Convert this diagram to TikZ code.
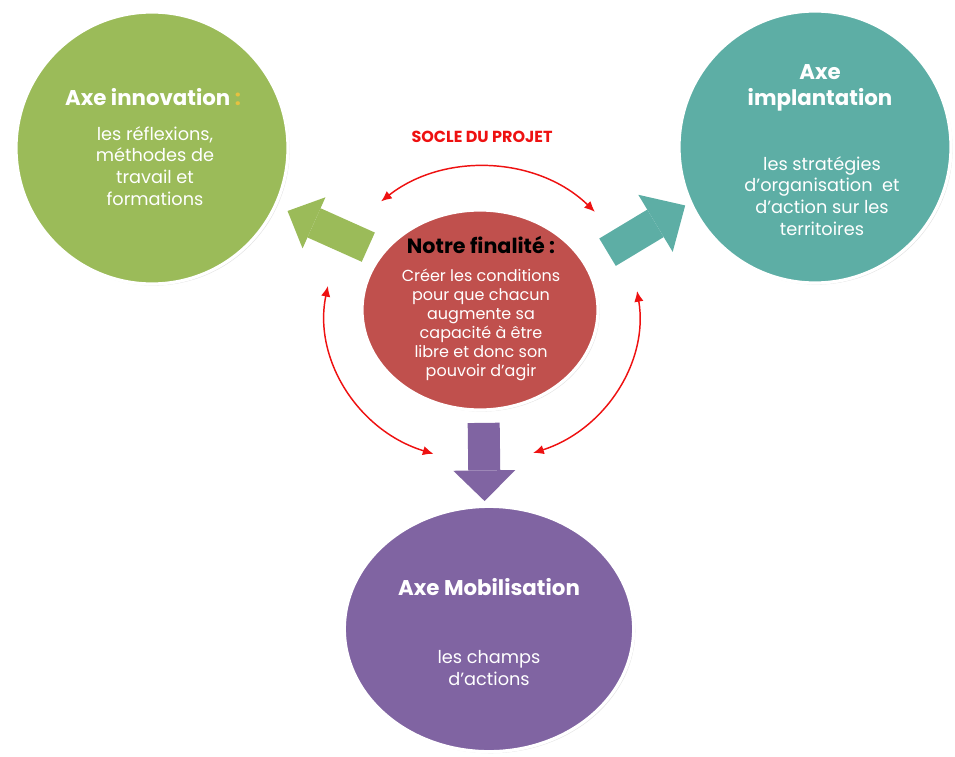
\documentclass[tikz,border=0pt]{standalone}
\usepackage{fontspec}
\setmainfont{Poppins}
\usepackage{xcolor}
\usetikzlibrary{shapes.geometric,arrows.meta,shadows}
\definecolor{axegreen}{HTML}{9BBB59}
\definecolor{axeteal}{HTML}{5DAEA5}
\definecolor{axered}{HTML}{C0504D}
\definecolor{axepurple}{HTML}{8064A2}
\definecolor{soclered}{HTML}{EE1111}
\definecolor{colongold}{HTML}{E6C140}
\newcommand\axetitle{\fontsize{16}{19}\selectfont\bfseries}
\newcommand\axebody{\fontsize{13.3}{16.3}\selectfont}
\newcommand\finbody{\fontsize{12}{14.2}\selectfont}

\begin{document}
\begin{tikzpicture}[x=0.75pt,y=-0.75pt,
  bubble/.style={draw=white,line width=2.4pt,
    drop shadow={shadow xshift=1.2pt,shadow yshift=-1.2pt,opacity=0.22}},
  bigarrow/.style 2 args={line width=24pt,
    -{Triangle[length=#2,width=#1,line width=0pt]}},
  socle/.style={draw=soclered,line width=1.1pt,
    {Latex[length=8pt,width=7pt]}-{Latex[length=8pt,width=7pt]}},
  txt/.style={align=center,text=white,inner sep=0pt}]
  \useasboundingbox (0,0) rectangle (955,756);

  \node[bubble,circle,fill=axegreen,minimum size=204pt] (inno) at (152,148) {};
  \node[bubble,circle,fill=axeteal,minimum size=204pt] (impl) at (815,147) {};
  \node[bubble,ellipse,fill=axered,minimum width=177pt,minimum height=150pt] (fin) at (480,310) {};
  \node[bubble,ellipse,fill=axepurple,minimum width=217pt,minimum height=184pt] (mob) at (489,629) {};

  \draw[bigarrow={42pt}{21.75pt},draw=axegreen,shorten <=10.5pt,shorten >=8.9pt] (fin.150) -- (inno.335);
  \draw[bigarrow={50pt}{26pt},draw=axeteal,shorten <=18pt,shorten >=3.6pt] (fin.23) -- (impl.204);
  \draw[bigarrow={46.5pt}{23pt},draw=axepurple,shorten <=8.5pt,shorten >=2.8pt] (fin.272) -- (mob.92);

  \coordinate (hub) at (482,314);
  \draw[socle] ([shift={(-130:157 and 147)}]hub) arc[start angle=-130,end angle=-44,x radius=157,y radius=147];
  \draw[socle] ([shift={(-169:157 and 147)}]hub) arc[start angle=-169,end angle=-252,x radius=157,y radius=147];
  \draw[socle] ([shift={(-9:157 and 147)}]hub) arc[start angle=-9,end angle=71,x radius=157,y radius=147];
  \node[text=soclered,font=\fontsize{12}{14}\selectfont\bfseries] (socletxt) at (482,137) {SOCLE DU PROJET};

  \node[txt,font=\axetitle] (innoT) at (153,97) {Axe innovation \textcolor{colongold}{:}};
  \node[txt,font=\axebody] (innoB) at (155,166) {les réflexions,\\méthodes de\\travail et\\formations};
  \node[txt,font=\axetitle] (implT) at (820,88) {Axe\\implantation};
  \node[txt,font=\axebody] (implB) at (822,196) {les stratégies\\d'organisation~ et\\d'action sur les\\territoires};
  \node[txt,text=black,font=\fontsize{15.5}{18}\selectfont\bfseries] (finT) at (481,245) {Notre finalité :};
  \node[txt,font=\finbody] (finB) at (481,325) {Créer les conditions\\pour que chacun\\augmente sa\\capacité à être\\libre et donc son\\pouvoir d'agir};
  \node[txt,font=\axetitle] (mobT) at (489,587) {Axe Mobilisation};
  \node[txt,font=\axebody] (mobB) at (489,668) {les champs\\d'actions};
\end{tikzpicture}
\end{document}
